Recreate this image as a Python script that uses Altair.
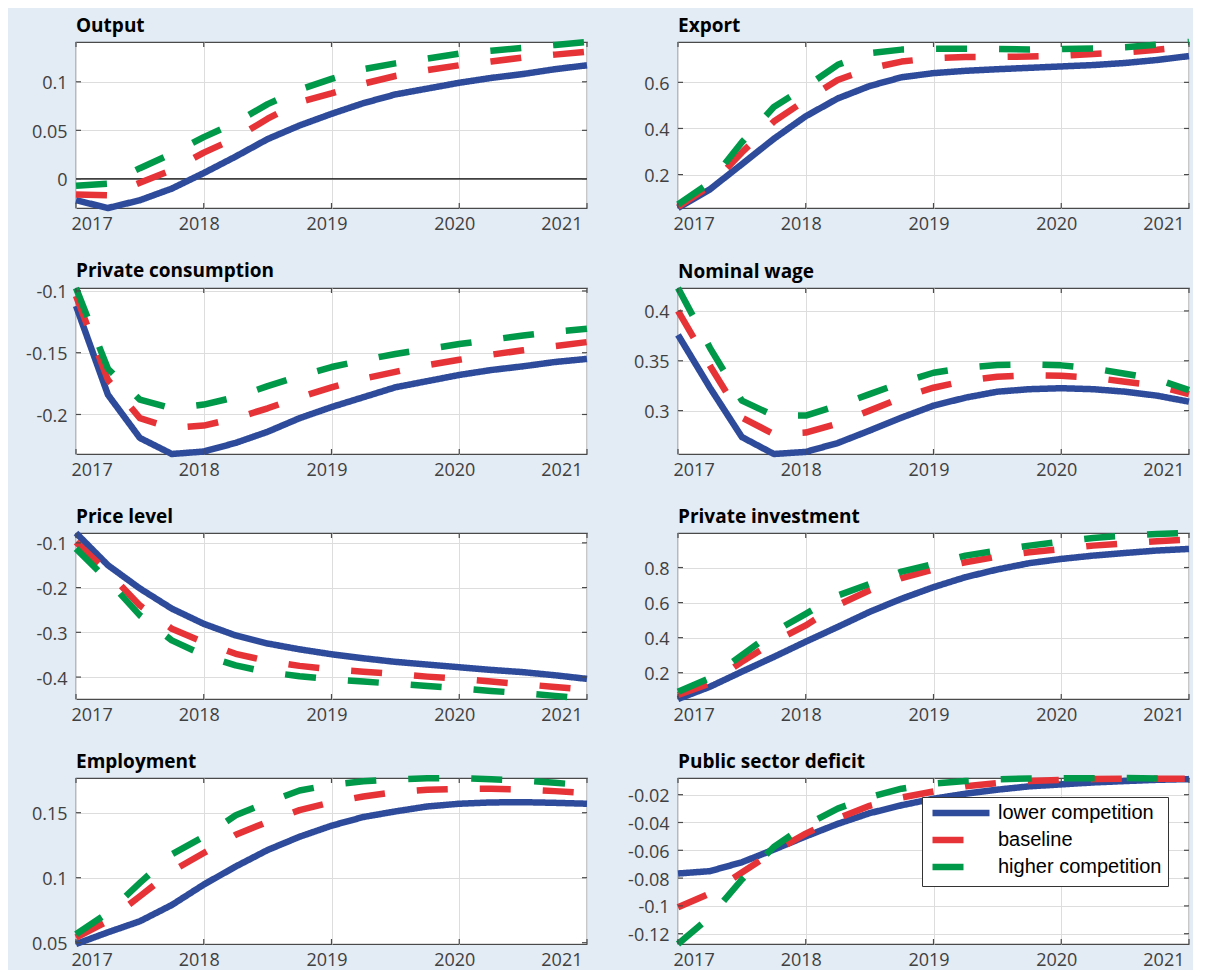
import altair as alt
import pandas as pd

quarters = [2017.0, 2017.25, 2017.5, 2017.75, 2018.0, 2018.25, 2018.5, 2018.75,
            2019.0, 2019.25, 2019.5, 2019.75, 2020.0, 2020.25, 2020.5, 2020.75, 2021.0]
year_ticks = [2017, 2018, 2019, 2020, 2021]

series_names = ["lower competition", "baseline", "higher competition"]
series_colors = ["#2e4b9b", "#e63338", "#00994a"]
series_dash = [[1, 0], [31, 32], [31, 32]]

titles = ["Output", "Export", "Private consumption", "Nominal wage",
          "Price level", "Private investment", "Employment", "Public sector deficit"]

output_lower = [-0.022, -0.030, -0.022, -0.010, 0.006, 0.023, 0.041, 0.055, 0.067, 0.078, 0.087, 0.093, 0.099, 0.104, 0.108, 0.113, 0.117]
output_base = [-0.016, -0.017, -0.004, 0.009, 0.027, 0.042, 0.062, 0.079, 0.088, 0.098, 0.106, 0.112, 0.117, 0.121, 0.125, 0.128, 0.131]
output_higher = [-0.007, -0.005, 0.011, 0.026, 0.043, 0.058, 0.077, 0.092, 0.103, 0.113, 0.119, 0.124, 0.129, 0.132, 0.135, 0.138, 0.141]
output_ticks = [0, 0.05, 0.1]

export_lower = [0.055, 0.136, 0.245, 0.355, 0.453, 0.530, 0.584, 0.622, 0.640, 0.650, 0.657, 0.663, 0.669, 0.675, 0.684, 0.697, 0.714]
export_base = [0.060, 0.150, 0.296, 0.430, 0.523, 0.610, 0.660, 0.690, 0.705, 0.710, 0.710, 0.712, 0.715, 0.723, 0.730, 0.741, 0.756]
export_higher = [0.070, 0.165, 0.340, 0.493, 0.580, 0.676, 0.727, 0.742, 0.746, 0.746, 0.745, 0.742, 0.745, 0.747, 0.752, 0.763, 0.775]
export_ticks = [0.2, 0.4, 0.6]

cons_lower = [-0.112, -0.184, -0.219, -0.232, -0.230, -0.223, -0.214, -0.203, -0.194, -0.186, -0.178, -0.173, -0.168, -0.164, -0.161, -0.1575, -0.155]
cons_base = [-0.104, -0.172, -0.203, -0.211, -0.209, -0.203, -0.195, -0.186, -0.178, -0.171, -0.1655, -0.160, -0.1557, -0.1516, -0.148, -0.1446, -0.1414]
cons_higher = [-0.0976, -0.163, -0.188, -0.195, -0.192, -0.186, -0.177, -0.169, -0.1616, -0.156, -0.151, -0.147, -0.143, -0.1395, -0.136, -0.133, -0.1306]
cons_ticks = [-0.2, -0.15, -0.1]

wage_lower = [0.376, 0.323, 0.2735, 0.2565, 0.2586, 0.2675, 0.280, 0.293, 0.305, 0.313, 0.319, 0.3215, 0.3225, 0.3215, 0.319, 0.315, 0.309]
wage_base = [0.400, 0.345, 0.293, 0.2765, 0.278, 0.287, 0.300, 0.313, 0.323, 0.330, 0.334, 0.3355, 0.335, 0.333, 0.329, 0.325, 0.3165]
wage_higher = [0.423, 0.363, 0.310, 0.295, 0.295, 0.305, 0.3165, 0.328, 0.338, 0.343, 0.3457, 0.3464, 0.3454, 0.3424, 0.337, 0.3315, 0.3205]
wage_ticks = [0.3, 0.35, 0.4]

price_lower = [-0.078, -0.150, -0.202, -0.247, -0.281, -0.307, -0.325, -0.338, -0.349, -0.358, -0.366, -0.372, -0.378, -0.384, -0.389, -0.396, -0.404]
price_base = [-0.0985, -0.165, -0.240, -0.292, -0.322, -0.348, -0.364, -0.375, -0.383, -0.388, -0.393, -0.399, -0.404, -0.410, -0.416, -0.422, -0.428]
price_higher = [-0.113, -0.184, -0.262, -0.318, -0.351, -0.374, -0.389, -0.398, -0.405, -0.410, -0.415, -0.420, -0.425, -0.431, -0.436, -0.442, -0.449]
price_ticks = [-0.4, -0.3, -0.2, -0.1]

invest_lower = [0.050, 0.120, 0.206, 0.290, 0.377, 0.461, 0.547, 0.622, 0.688, 0.745, 0.789, 0.825, 0.849, 0.868, 0.883, 0.897, 0.906]
invest_base = [0.073, 0.139, 0.262, 0.376, 0.470, 0.585, 0.670, 0.740, 0.789, 0.830, 0.862, 0.887, 0.906, 0.925, 0.938, 0.950, 0.959]
invest_higher = [0.092, 0.170, 0.300, 0.432, 0.536, 0.640, 0.707, 0.777, 0.820, 0.868, 0.897, 0.925, 0.948, 0.969, 0.982, 0.991, 0.997]
invest_ticks = [0.2, 0.4, 0.6, 0.8]

emp_lower = [0.049, 0.058, 0.0665, 0.079, 0.0947, 0.1086, 0.1213, 0.1315, 0.140, 0.1467, 0.151, 0.1548, 0.1569, 0.1579, 0.1581, 0.1576, 0.1569]
emp_base = [0.054, 0.0667, 0.0857, 0.105, 0.119, 0.133, 0.143, 0.152, 0.158, 0.1625, 0.1658, 0.1676, 0.1684, 0.1684, 0.1679, 0.1666, 0.165]
emp_higher = [0.0565, 0.073, 0.096, 0.118, 0.1315, 0.148, 0.158, 0.1671, 0.1716, 0.1742, 0.1757, 0.1765, 0.1767, 0.1757, 0.1747, 0.173, 0.171]
emp_ticks = [0.05, 0.1, 0.15]

deficit_lower = [-0.0767, -0.075, -0.0686, -0.0595, -0.050, -0.041, -0.0333, -0.0276, -0.0229, -0.0193, -0.0164, -0.014, -0.0126, -0.0112, -0.0102, -0.0093, -0.0088]
deficit_base = [-0.101, -0.091, -0.076, -0.061, -0.048, -0.037, -0.028, -0.022, -0.0177, -0.014, -0.0117, -0.0102, -0.0093, -0.0088, -0.0086, -0.0086, -0.0086]
deficit_higher = [-0.1274, -0.108, -0.081, -0.0576, -0.042, -0.030, -0.0217, -0.0157, -0.0121, -0.0102, -0.009, -0.0083, -0.0081, -0.0081, -0.008, -0.0083, -0.0085]
deficit_ticks = [-0.12, -0.1, -0.08, -0.06, -0.04, -0.02]

panel_data = [
    (output_lower, output_base, output_higher, output_ticks),
    (export_lower, export_base, export_higher, export_ticks),
    (cons_lower, cons_base, cons_higher, cons_ticks),
    (wage_lower, wage_base, wage_higher, wage_ticks),
    (price_lower, price_base, price_higher, price_ticks),
    (invest_lower, invest_base, invest_higher, invest_ticks),
    (emp_lower, emp_base, emp_higher, emp_ticks),
    (deficit_lower, deficit_base, deficit_higher, deficit_ticks),
]

FONT = "Open Sans"
PW, PH = 511, 166
TICK = 5
FRAME = "#4a4a4a"


def make_panel(idx):
    title = titles[idx]
    lower, base, higher, yticks = panel_data[idx]
    df = pd.DataFrame({
        "t": quarters * 3,
        "v": lower + base + higher,
        "s": [n for n in series_names for _ in quarters],
        "o": [i for i in range(3) for _ in quarters],
    })
    if idx == 7:
        legend = alt.Legend(
            title=None, orient="none", legendX=244, legendY=19,
            symbolType="M-5.7,0H5.7", symbolSize=100, symbolStrokeWidth=6.5,
            symbolOffset=23, labelOffset=27,
            labelFont="Liberation Sans", labelFontSize=20, labelColor="black",
            fillColor="white", strokeColor="#333333", padding=6, rowPadding=1,
            cornerRadius=0, labelLimit=400,
        )
    else:
        legend = None
    xscale = alt.Scale(domain=[2017, 2021], nice=False, zero=False)
    yscale = alt.Scale(nice=False, zero=False)
    xaxis = alt.Axis(values=year_ticks, format="d", title=None, labelOffset=-5)
    yaxis = alt.Axis(values=yticks, title=None, labelExpr="'' + datum.value", labelOffset=2)

    lines = alt.Chart(df).mark_line(strokeWidth=6.5, strokeCap="butt", strokeJoin="round").encode(
        x=alt.X("t:Q", scale=xscale, axis=xaxis),
        y=alt.Y("v:Q", scale=yscale, axis=yaxis),
        color=alt.Color("s:N", scale=alt.Scale(domain=series_names, range=series_colors), legend=legend),
        strokeDash=alt.StrokeDash("s:N", scale=alt.Scale(domain=series_names, range=series_dash), legend=legend),
        order=alt.Order("o:Q"),
    )
    ydf = pd.DataFrame({"v": yticks})
    xdf = pd.DataFrame({"t": year_ticks})
    ytick_l = alt.Chart(ydf).mark_rule(color=FRAME, strokeWidth=1.2).encode(
        y=alt.Y("v:Q", scale=yscale, axis=yaxis), x=alt.value(0), x2=alt.value(TICK))
    ytick_r = alt.Chart(ydf).mark_rule(color=FRAME, strokeWidth=1.2).encode(
        y=alt.Y("v:Q", scale=yscale, axis=yaxis), x=alt.value(PW - TICK), x2=alt.value(PW))
    xtick_b = alt.Chart(xdf).mark_rule(color=FRAME, strokeWidth=1.2).encode(
        x=alt.X("t:Q", scale=xscale, axis=xaxis), y=alt.value(PH - TICK), y2=alt.value(PH))
    xtick_t = alt.Chart(xdf).mark_rule(color=FRAME, strokeWidth=1.2).encode(
        x=alt.X("t:Q", scale=xscale, axis=xaxis), y=alt.value(0), y2=alt.value(TICK))
    layers = []
    if idx == 0:
        zero = alt.Chart(pd.DataFrame({"v": [0]})).mark_rule(color="black", strokeWidth=1.3).encode(
            y=alt.Y("v:Q", scale=yscale, axis=yaxis))
        layers.append(zero)
    layers.extend([lines, ytick_l, ytick_r, xtick_b, xtick_t])
    ch = alt.layer(*layers).properties(
        width=PW, height=PH,
        title=alt.TitleParams(title, anchor="start", frame="group", font=FONT, fontSize=19,
                              fontWeight="bold", color="black", offset=3),
    )
    return ch


panels = [make_panel(i) for i in range(8)]

chart = alt.concat(*panels, columns=2, spacing={"row": 27, "column": 36}).resolve_legend(
    color="independent", strokeDash="independent"
).properties(
    background="#e3ebf4",
    padding={"left": 17, "top": 8, "right": 0, "bottom": 0},
).configure_view(
    fill="white", stroke=FRAME, strokeWidth=1.2
).configure_axis(
    grid=True, gridColor="#dddddd", gridWidth=1, domain=False, ticks=False,
    labelFont=FONT, labelFontSize=18, labelColor="#404040", labelPadding=9,
).configure_axisX(labelPadding=7)

chart.save("out.html", embed_options={"renderer": "svg", "actions": False})
